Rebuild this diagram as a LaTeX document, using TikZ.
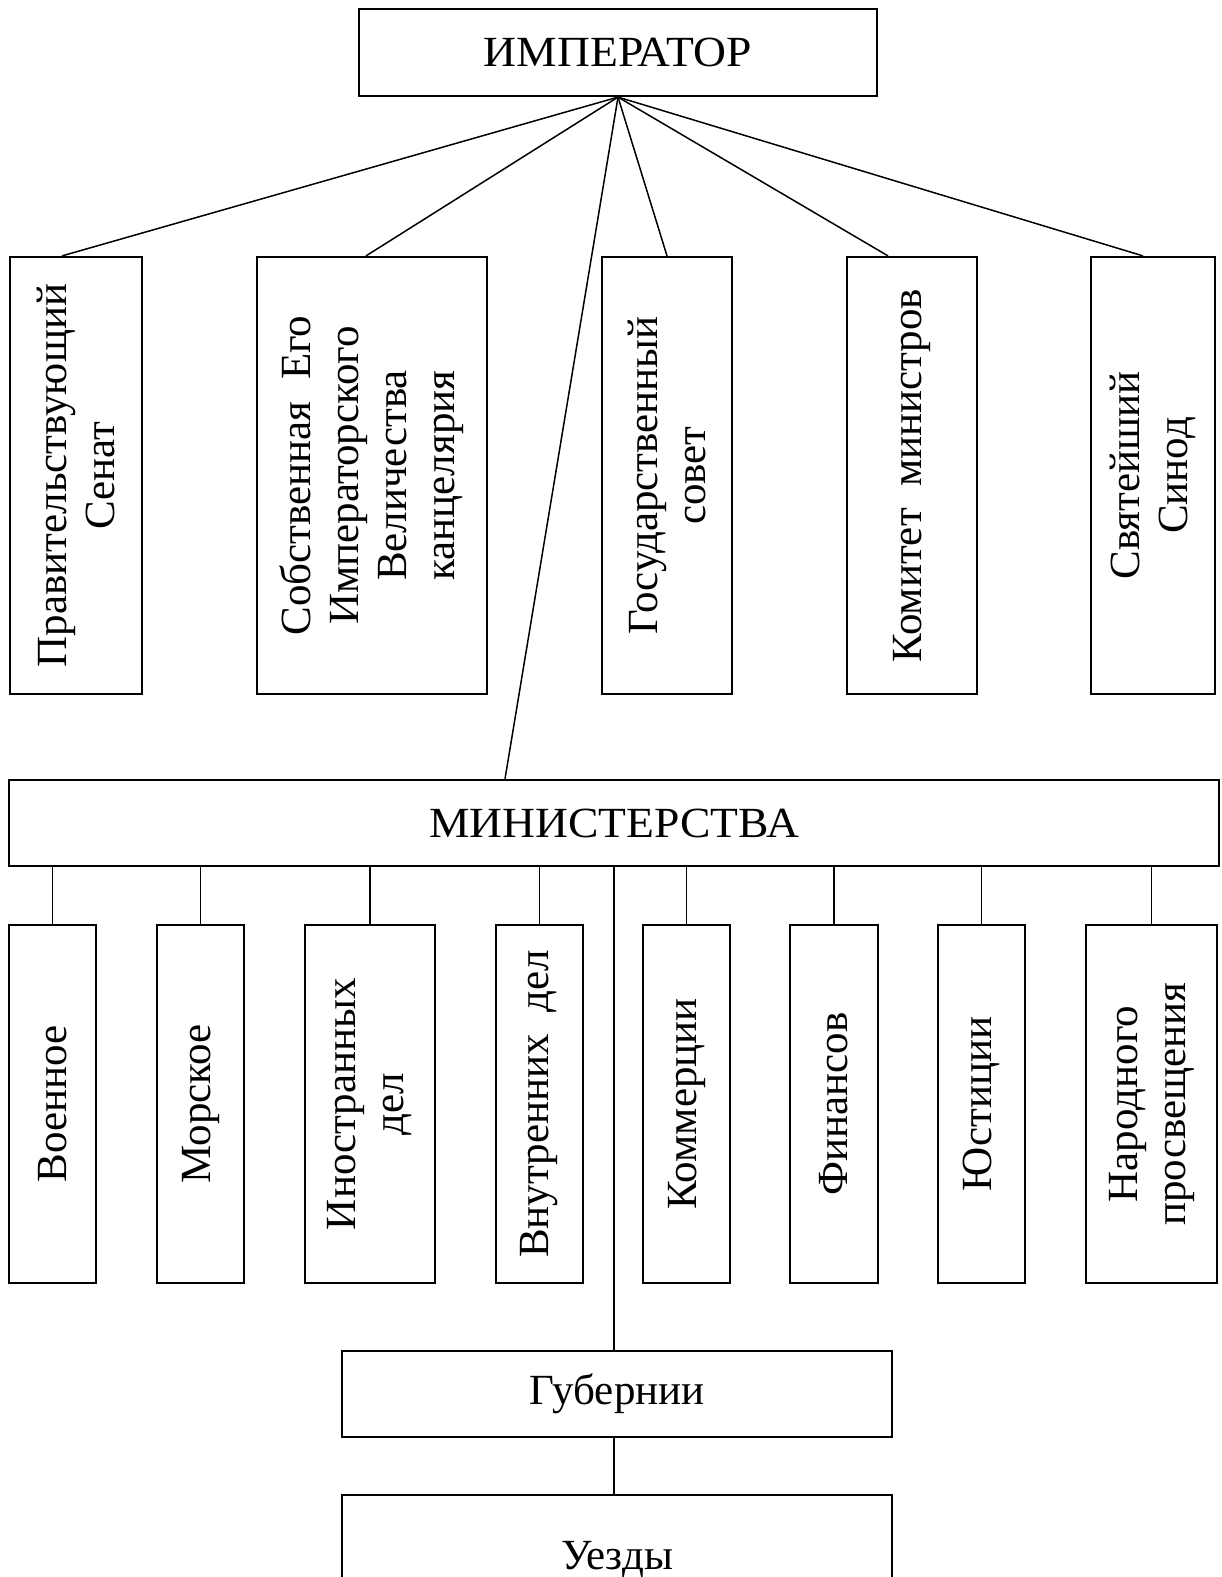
\documentclass[tikz,border=0pt]{standalone}
\usepackage{fontspec}
\setmainfont{Liberation Serif}
\newfontfamily\widecaps[FakeStretch=1.06]{Liberation Serif}
\usetikzlibrary{calc}
\tikzset{
  box/.style={draw, line width=2.2pt, inner sep=0pt, anchor=center},
  vtext/.style={rotate=90, align=center, font=\fontsize{43}{48}\selectfont, inner sep=0pt},
  htext/.style={font=\fontsize{43}{48}\selectfont},
  capstext/.style={font=\widecaps\fontsize{43}{48}\selectfont},
  conn/.style={line width=1.5pt},
}
\begin{document}
\begin{tikzpicture}[x=1pt,y=-1pt]
\useasboundingbox (0,0) rectangle (1221,1577);
\clip (0,0) rectangle (1221,1577);
% Emperor
\node[box, capstext, minimum width=518, minimum height=87] (emp) at (618,52.5) {ИМПЕРАТОР};
% top row
\node[box, minimum width=132, minimum height=437] (sen) at (76,475.5) {};
\node[vtext] (sent) at (sen.center) {Правительствующий\\Сенат};
\node[box, minimum width=230, minimum height=437] (sob) at (372,475.5) {};
\node[vtext] (sobt) at (sob.center) {Собственная\ \ Его\\Императорского\\Величества\\канцелярия};
\node[box, minimum width=130, minimum height=437] (gos) at (667,475.5) {};
\node[vtext] (gost) at (gos.center) {Государственный\\совет};
\node[box, minimum width=130, minimum height=437] (kom) at (912,475.5) {};
\node[vtext] (komt) at (kom.center) {Комитет\ \ министров};
\node[box, minimum width=124, minimum height=437] (syn) at (1153,475.5) {};
\node[vtext] (synt) at (syn.center) {Святейший\\Синод};
% Ministries
\node[box, capstext, minimum width=1210, minimum height=86] (min) at (614,823) {МИНИСТЕРСТВА};
% ministries row
\node[box, minimum width=87, minimum height=358] (voe) at (52.5,1104) {};
\node[vtext] (voet) at (voe.center) {Военное};
\node[box, minimum width=87, minimum height=358] (mor) at (200.5,1104) {};
\node[vtext] (mort) at (mor.center) {Морское};
\node[box, minimum width=130, minimum height=358] (ino) at (370,1104) {};
\node[vtext] (inot) at (ino.center) {Иностранных\\дел};
\node[box, minimum width=87, minimum height=358] (vnu) at (539.5,1104) {};
\node[vtext] (vnut) at (vnu.center) {Внутренних\ \ дел};
\node[box, minimum width=87, minimum height=358] (kmr) at (686.5,1104) {};
\node[vtext] (kmrt) at (kmr.center) {Коммерции};
\node[box, minimum width=88, minimum height=358] (fin) at (834,1104) {};
\node[vtext] (fint) at (fin.center) {Финансов};
\node[box, minimum width=87, minimum height=358] (yus) at (981.5,1104) {};
\node[vtext] (yust) at (yus.center) {Юстиции};
\node[box, minimum width=131, minimum height=358] (nar) at (1151.5,1104) {};
\node[vtext] (nart) at (nar.center) {Народного\\просвещения};
% provinces
\node[box, htext, minimum width=550, minimum height=86] (gub) at (617,1394) {Губернии};
\node[box, htext, minimum width=550, minimum height=130] (uez) at (617,1560) {Уезды};
% connectors from emperor
\draw[conn] (emp.south) -- ([xshift=-14pt]sen.north);
\draw[conn] (emp.south) -- ([xshift=-6pt]sob.north);
\draw[conn] (emp.south) -- (gos.north);
\draw[conn] (emp.south) -- ([xshift=-24pt]kom.north);
\draw[conn] (emp.south) -- ([xshift=-10pt]syn.north);
\draw[conn] (emp.south) -- ([xshift=-109pt]min.north);
% ministries stubs
\foreach \n in {voe,mor,ino,vnu,kmr,fin,yus,nar}
  \draw[conn] (min.south -| \n.north) -- (\n.north);
\draw[conn] (min.south) -- (min.south |- gub.north);
\draw[conn] (gub.south -| min.south) -- (uez.north -| min.south);
\end{tikzpicture}
\end{document}
